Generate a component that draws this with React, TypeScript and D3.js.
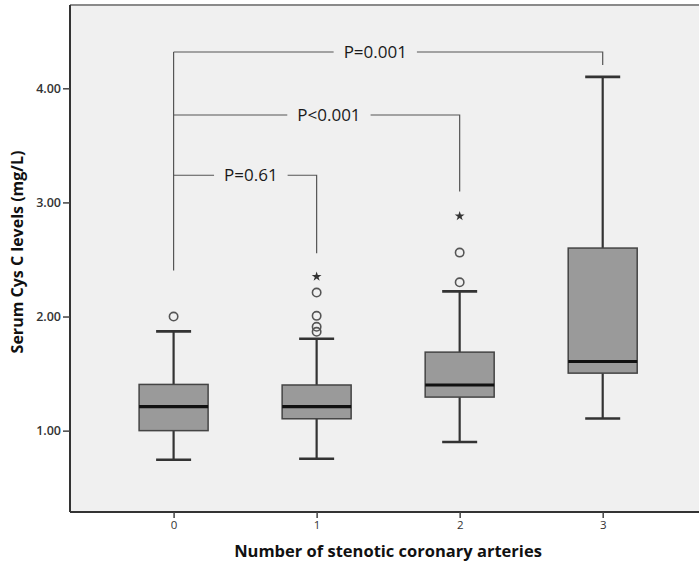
import React from "react";
import * as d3 from "d3";

const categories = ["0", "1", "2", "3"];
const whiskerLow = [0.745, 0.754, 0.9, 1.107];
const q1 = [1.0, 1.104, 1.294, 1.504];
const median = [1.21, 1.21, 1.4, 1.606];
const q3 = [1.405, 1.4, 1.688, 2.6];
const whiskerHigh = [1.87, 1.805, 2.22, 4.1];

const outlierGroup = ["0", "1", "1", "1", "1", "2", "2"];
const outlierValue = [2.0, 1.866, 1.91, 2.006, 2.21, 2.3, 2.56];
const extremeGroup = ["1", "2"];
const extremeValue = [2.35, 2.88];

const yTicks = [1, 2, 3, 4];

// comparisons drawn from group "0" to the target group
const pLabels = ["P=0.61", "P<0.001", "P=0.001"];
const pTarget = ["1", "2", "3"];
const pLevel = [3.238, 3.766, 4.318];
const pDropEnd = [2.555, 3.095, 4.204];
const pLabelFrac = [0.54, 0.543, 0.47];
const pStemEnd = 2.403;

const W = 699;
const H = 565;
const frame = { left: 70, top: 5, right: 720, bottom: 512 };
const FONT = "'Open Sans', 'DejaVu Sans', sans-serif";

const App = () => {
  const ref = React.useRef(null);

  React.useEffect(() => {
    const svg = d3.select(ref.current);
    svg.selectAll("*").remove();

    const x = d3.scalePoint(categories, [173.6, 602.7]);
    const y = d3.scaleLinear([0.287, 4.73], [frame.bottom, frame.top]);
    const boxW = 69;
    const capW = 35;

    svg.append("rect").attr("width", W).attr("height", H).attr("fill", "#fff");
    svg.append("rect")
      .attr("x", frame.left).attr("y", frame.top)
      .attr("width", frame.right - frame.left).attr("height", frame.bottom - frame.top)
      .attr("fill", "#f0f0f0");
    svg.append("line")
      .attr("x1", frame.left).attr("x2", frame.right)
      .attr("y1", frame.top).attr("y2", frame.top)
      .attr("stroke", "#8a8a8a").attr("stroke-width", 2);

    // brackets
    const br = svg.append("g").attr("stroke", "#555").attr("stroke-width", 1.2).attr("fill", "none");
    br.append("line")
      .attr("x1", x("0")).attr("x2", x("0"))
      .attr("y1", y(pLevel[2])).attr("y2", y(pStemEnd));
    pLabels.forEach((lab, i) => {
      const x0 = x("0");
      const x1 = x(pTarget[i]);
      const yl = y(pLevel[i]);
      const cx = x0 + (x1 - x0) * pLabelFrac[i];
      const t = svg.append("text")
        .attr("x", cx).attr("y", yl)
        .attr("dy", "0.35em")
        .attr("text-anchor", "middle")
        .attr("font-family", FONT).attr("font-size", 17)
        .attr("fill", "#1a1a1a")
        .text(lab);
      const bb = t.node().getBBox();
      const gap = 10;
      br.append("line").attr("x1", x0).attr("x2", bb.x - gap).attr("y1", yl).attr("y2", yl);
      br.append("path")
        .attr("d", `M${bb.x + bb.width + gap},${yl}H${x1}V${y(pDropEnd[i])}`);
    });

    // boxes
    const g = svg.append("g");
    categories.forEach((c, i) => {
      const cx = x(c);
      g.append("line")
        .attr("x1", cx).attr("x2", cx)
        .attr("y1", y(whiskerHigh[i])).attr("y2", y(q3[i]))
        .attr("stroke", "#333").attr("stroke-width", 2.2);
      g.append("line")
        .attr("x1", cx).attr("x2", cx)
        .attr("y1", y(q1[i])).attr("y2", y(whiskerLow[i]))
        .attr("stroke", "#333").attr("stroke-width", 2.2);
      [whiskerHigh[i], whiskerLow[i]].forEach(v => {
        g.append("line")
          .attr("x1", cx - capW / 2).attr("x2", cx + capW / 2)
          .attr("y1", y(v)).attr("y2", y(v))
          .attr("stroke", "#333").attr("stroke-width", 2.6);
      });
      g.append("rect")
        .attr("x", cx - boxW / 2).attr("y", y(q3[i]))
        .attr("width", boxW).attr("height", y(q1[i]) - y(q3[i]))
        .attr("fill", "#9a9a9a").attr("stroke", "#444").attr("stroke-width", 1.5);
      g.append("line")
        .attr("x1", cx - boxW / 2).attr("x2", cx + boxW / 2)
        .attr("y1", y(median[i])).attr("y2", y(median[i]))
        .attr("stroke", "#111").attr("stroke-width", 3.2);
    });

    outlierValue.forEach((v, i) => {
      g.append("circle")
        .attr("cx", x(outlierGroup[i])).attr("cy", y(v)).attr("r", 4.2)
        .attr("fill", "none").attr("stroke", "#555").attr("stroke-width", 1.6);
    });
    extremeValue.forEach((v, i) => {
      g.append("path")
        .attr("d", d3.symbol(d3.symbolStar, 30)())
        .attr("transform", `translate(${x(extremeGroup[i])},${y(v)})`)
        .attr("fill", "#333");
    });

    // axes
    const ax = svg.append("g").attr("transform", `translate(${frame.left},0)`)
      .call(d3.axisLeft(y).tickValues(yTicks).tickFormat(d3.format(".2f")).tickSize(7).tickPadding(2));
    ax.select(".domain").attr("stroke", "#333").attr("stroke-width", 2)
      .attr("d", `M0,${frame.top}V${frame.bottom}`);
    ax.selectAll(".tick line").attr("stroke", "#444").attr("stroke-width", 1.5);
    ax.selectAll(".tick text").attr("font-family", FONT).attr("font-size", 12.5)
      .attr("font-weight", 600).attr("fill", "#333");

    const bx = svg.append("g").attr("transform", `translate(0,${frame.bottom})`)
      .call(d3.axisBottom(x).tickSize(6).tickPadding(3));
    bx.select(".domain").attr("stroke", "#333").attr("stroke-width", 2)
      .attr("d", `M${frame.left},0H${frame.right}`);
    bx.selectAll(".tick line").attr("stroke", "#444").attr("stroke-width", 1.5);
    bx.selectAll(".tick text").attr("font-family", FONT).attr("font-size", 11.5).attr("fill", "#333");

    svg.append("text")
      .attr("x", 388).attr("y", 557)
      .attr("text-anchor", "middle")
      .attr("font-family", FONT).attr("font-size", 16.5).attr("font-weight", "bold")
      .attr("fill", "#111")
      .text("Number of stenotic coronary arteries");
    svg.append("text")
      .attr("transform", `translate(23,252) rotate(-90)`)
      .attr("text-anchor", "middle")
      .attr("font-family", FONT).attr("font-size", 16).attr("font-weight", "bold")
      .attr("fill", "#111")
      .text("Serum Cys C levels (mg/L)");
  }, []);

  return (
    <svg ref={ref} width={W} height={H}
      style={{ position: "absolute", left: 0, top: 0, display: "block" }} />
  );
};

export default App;
